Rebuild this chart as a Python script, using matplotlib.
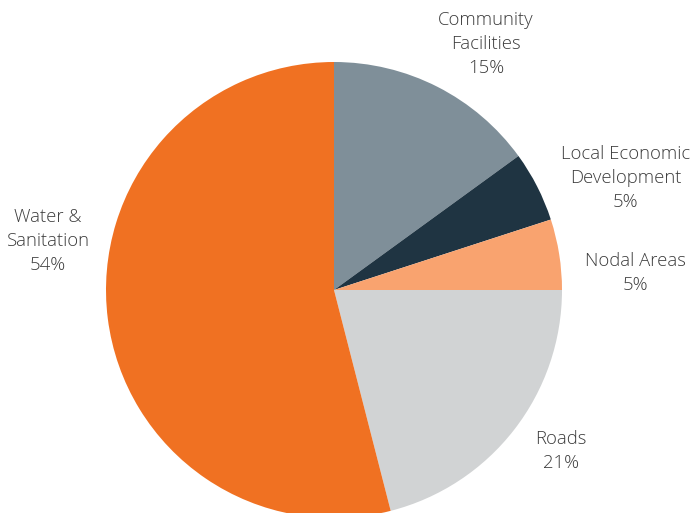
import matplotlib
matplotlib.use("Agg")
import matplotlib.pyplot as plt

categories = ["Community\nFacilities", "Local Economic\nDevelopment", "Nodal Areas", "Roads", "Water &\nSanitation"]
shares = [15, 5, 5, 21, 54]
colors = ["#7f8f99", "#1f3442", "#f9a36f", "#d1d3d4", "#f07122"]

# label anchor points in pixel space (x, y from top)
label_pos = [(486, 44), (626, 178), (635, 273), (561, 451), (48, 241)]

W, H = 690, 513
fig = plt.figure(figsize=(W / 100, H / 100), dpi=100)
ax = fig.add_axes([0, 0, 1, 1])

cx, cy, r = 334, H - 290, 228
ax.pie(shares, colors=colors, startangle=90, counterclock=False,
       center=(cx, cy), radius=r, frame=True,
       wedgeprops=dict(linewidth=0))
ax.set_xlim(0, W)
ax.set_ylim(0, H)
ax.set_aspect("equal")
ax.axis("off")

for name, val, (px, py) in zip(categories, shares, label_pos):
    ax.text(px, H - py, f"{name}\n{val}%", ha="center", va="center",
            fontsize=13.3, color="#3c3c3c", family="Open Sans",
            fontweight="light", linespacing=1.42)

fig.savefig("out.png", dpi=100)
